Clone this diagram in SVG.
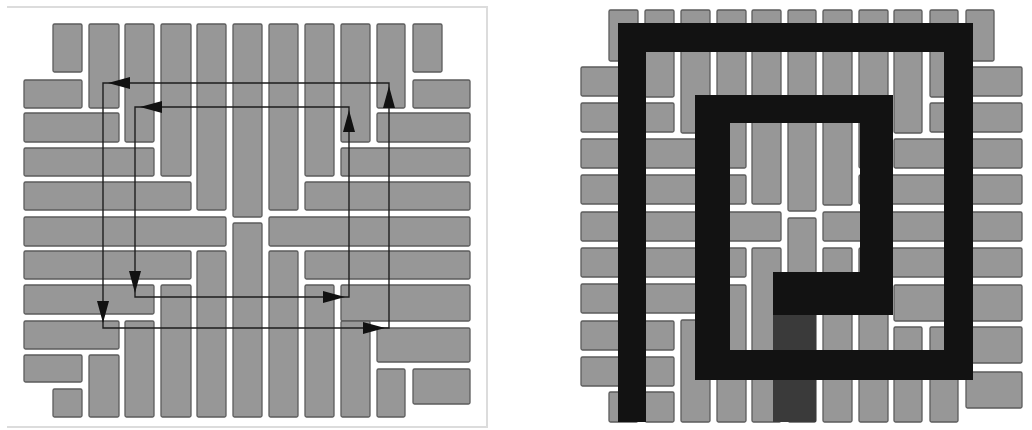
<svg xmlns="http://www.w3.org/2000/svg" xmlns:xlink="http://www.w3.org/1999/xlink" width="1032" height="430" viewBox="0 0 1032 430">
<style>
.t{fill:#979797;stroke:#5c5c5c;stroke-width:1.3}
.loop{fill:none;stroke:#1e1e1e;stroke-width:1.4}
.ah{fill:#111}
.blk{fill:#121212}
.frame{fill:none;stroke:#dcdcdc;stroke-width:2}
</style>
<defs>
<path id="ah" d="M0,0 L-22,-6 L-22,6 Z"/>
</defs>
<rect width="1032" height="430" fill="#ffffff"/>
<g id="left-panel">
<path class="frame" d="M7,7 H487 V427 H7"/>
<g id="left-tiles">
<rect class="t" rx="1.5" x="53" y="24" width="29" height="48"/>
<rect class="t" rx="1.5" x="89" y="24" width="30" height="84"/>
<rect class="t" rx="1.5" x="125" y="24" width="29" height="118"/>
<rect class="t" rx="1.5" x="161" y="24" width="30" height="152"/>
<rect class="t" rx="1.5" x="197" y="24" width="29" height="186"/>
<rect class="t" rx="1.5" x="233" y="24" width="29" height="193"/>
<rect class="t" rx="1.5" x="269" y="24" width="29" height="186"/>
<rect class="t" rx="1.5" x="305" y="24" width="29" height="152"/>
<rect class="t" rx="1.5" x="341" y="24" width="29" height="118"/>
<rect class="t" rx="1.5" x="377" y="24" width="28" height="84"/>
<rect class="t" rx="1.5" x="413" y="24" width="29" height="48"/>
<rect class="t" rx="1.5" x="24" y="80" width="58" height="28"/>
<rect class="t" rx="1.5" x="24" y="113" width="95" height="29"/>
<rect class="t" rx="1.5" x="24" y="148" width="130" height="28"/>
<rect class="t" rx="1.5" x="24" y="182" width="167" height="28"/>
<rect class="t" rx="1.5" x="24" y="217" width="202" height="29"/>
<rect class="t" rx="1.5" x="24" y="251" width="167" height="28"/>
<rect class="t" rx="1.5" x="24" y="285" width="130" height="29"/>
<rect class="t" rx="1.5" x="24" y="321" width="95" height="28"/>
<rect class="t" rx="1.5" x="24" y="355" width="58" height="27"/>
<rect class="t" rx="1.5" x="53" y="389" width="29" height="28"/>
<rect class="t" rx="1.5" x="413" y="80" width="57" height="28"/>
<rect class="t" rx="1.5" x="377" y="113" width="93" height="29"/>
<rect class="t" rx="1.5" x="341" y="148" width="129" height="28"/>
<rect class="t" rx="1.5" x="305" y="182" width="165" height="28"/>
<rect class="t" rx="1.5" x="269" y="217" width="201" height="29"/>
<rect class="t" rx="1.5" x="305" y="251" width="165" height="28"/>
<rect class="t" rx="1.5" x="341" y="285" width="129" height="36"/>
<rect class="t" rx="1.5" x="377" y="328" width="93" height="34"/>
<rect class="t" rx="1.5" x="413" y="369" width="57" height="35"/>
<rect class="t" rx="1.5" x="89" y="355" width="30" height="62"/>
<rect class="t" rx="1.5" x="125" y="321" width="29" height="96"/>
<rect class="t" rx="1.5" x="161" y="285" width="30" height="132"/>
<rect class="t" rx="1.5" x="197" y="251" width="29" height="166"/>
<rect class="t" rx="1.5" x="233" y="223" width="29" height="194"/>
<rect class="t" rx="1.5" x="269" y="251" width="29" height="166"/>
<rect class="t" rx="1.5" x="305" y="285" width="29" height="132"/>
<rect class="t" rx="1.5" x="341" y="321" width="29" height="96"/>
<rect class="t" rx="1.5" x="377" y="369" width="28" height="48"/>
</g>
<g id="connectors">
<path class="loop" d="M103,83 H389 V328 H103 Z"/>
<path class="loop" d="M135,107 H349 V297 H135 Z"/>
<use class="ah" href="#ah" xlink:href="#ah" transform="translate(108,83) rotate(180)"/>
<use class="ah" href="#ah" xlink:href="#ah" transform="translate(103,323) rotate(90)"/>
<use class="ah" href="#ah" xlink:href="#ah" transform="translate(385,328)"/>
<use class="ah" href="#ah" xlink:href="#ah" transform="translate(389,86) rotate(-90)"/>
<use class="ah" href="#ah" xlink:href="#ah" transform="translate(140,107) rotate(180)"/>
<use class="ah" href="#ah" xlink:href="#ah" transform="translate(135,293) rotate(90)"/>
<use class="ah" href="#ah" xlink:href="#ah" transform="translate(345,297)"/>
<use class="ah" href="#ah" xlink:href="#ah" transform="translate(349,110) rotate(-90)"/>
</g>
</g>
<g id="right-panel">
<g id="right-tiles">
<rect class="t" rx="1.5" x="609" y="10" width="29" height="51"/>
<rect class="t" rx="1.5" x="645" y="10" width="29" height="87"/>
<rect class="t" rx="1.5" x="681" y="10" width="29" height="123"/>
<rect class="t" rx="1.5" x="717" y="10" width="29" height="158"/>
<rect class="t" rx="1.5" x="752" y="10" width="29" height="194"/>
<rect class="t" rx="1.5" x="788" y="10" width="28" height="201"/>
<rect class="t" rx="1.5" x="823" y="10" width="29" height="195"/>
<rect class="t" rx="1.5" x="859" y="10" width="29" height="158"/>
<rect class="t" rx="1.5" x="894" y="10" width="28" height="123"/>
<rect class="t" rx="1.5" x="930" y="10" width="28" height="87"/>
<rect class="t" rx="1.5" x="966" y="10" width="28" height="51"/>
<rect class="t" rx="1.5" x="581" y="67" width="57" height="29"/>
<rect class="t" rx="1.5" x="581" y="103" width="93" height="29"/>
<rect class="t" rx="1.5" x="581" y="139" width="129" height="29"/>
<rect class="t" rx="1.5" x="581" y="175" width="165" height="29"/>
<rect class="t" rx="1.5" x="581" y="212" width="200" height="29"/>
<rect class="t" rx="1.5" x="581" y="248" width="165" height="29"/>
<rect class="t" rx="1.5" x="581" y="284" width="129" height="29"/>
<rect class="t" rx="1.5" x="581" y="321" width="93" height="29"/>
<rect class="t" rx="1.5" x="581" y="357" width="93" height="29"/>
<rect class="t" rx="1.5" x="609" y="392" width="29" height="30"/>
<rect class="t" rx="1.5" x="645" y="392" width="29" height="30"/>
<rect class="t" rx="1.5" x="966" y="67" width="56" height="29"/>
<rect class="t" rx="1.5" x="930" y="103" width="92" height="29"/>
<rect class="t" rx="1.5" x="894" y="139" width="128" height="29"/>
<rect class="t" rx="1.5" x="859" y="175" width="163" height="29"/>
<rect class="t" rx="1.5" x="823" y="212" width="199" height="29"/>
<rect class="t" rx="1.5" x="859" y="248" width="163" height="29"/>
<rect class="t" rx="1.5" x="894" y="285" width="128" height="36"/>
<rect class="t" rx="1.5" x="966" y="327" width="56" height="36"/>
<rect class="t" rx="1.5" x="966" y="372" width="56" height="36"/>
<rect class="t" rx="1.5" x="681" y="320" width="29" height="102"/>
<rect class="t" rx="1.5" x="717" y="285" width="29" height="137"/>
<rect class="t" rx="1.5" x="752" y="248" width="29" height="174"/>
<rect class="t" rx="1.5" x="788" y="218" width="28" height="204"/>
<rect class="t" rx="1.5" x="823" y="248" width="29" height="174"/>
<rect class="t" rx="1.5" x="859" y="285" width="29" height="137"/>
<rect class="t" rx="1.5" x="894" y="327" width="28" height="95"/>
<rect class="t" rx="1.5" x="930" y="327" width="28" height="95"/>
</g>
<g id="spiral">
<rect x="773" y="315" width="43" height="107" fill="#3a3a3a"/>
<rect class="blk" x="618" y="23" width="355" height="29"/>
<rect class="blk" x="618" y="23" width="28" height="399"/>
<rect class="blk" x="944" y="23" width="29" height="357"/>
<rect class="blk" x="695" y="350" width="278" height="30"/>
<rect class="blk" x="695" y="95" width="35" height="285"/>
<rect class="blk" x="695" y="95" width="198" height="28"/>
<rect class="blk" x="860" y="95" width="33" height="220"/>
<rect class="blk" x="773" y="272" width="120" height="43"/>
</g>
</g>
</svg>
